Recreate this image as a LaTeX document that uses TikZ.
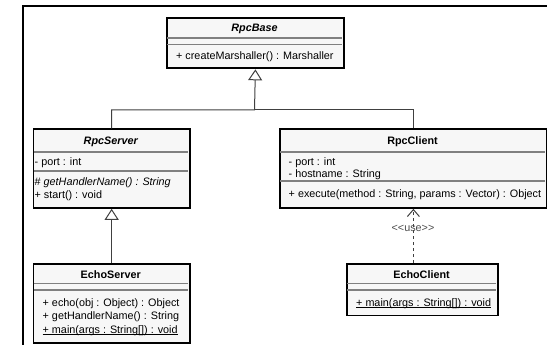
\documentclass[tikz,border=0pt]{standalone}
\usepackage{fontspec}
\setmainfont{Liberation Sans}
\usetikzlibrary{arrows.meta}
\begin{document}
\begin{tikzpicture}[x=1pt,y=-1pt,
  box/.style={draw=black, line width=1.8pt, fill=black!3, rectangle, inner sep=0pt, anchor=north west},
  sep/.style={draw=black!50, line width=1.2pt},
  txt/.style={font=\fontsize{10.8}{13}\selectfont, inner sep=0pt, anchor=base west},
  ttl/.style={font=\fontsize{10.8}{13}\selectfont\bfseries, inner sep=0pt, anchor=base},
  ulin/.style={draw=black, line width=0.6pt},
  conn/.style={draw=black!75, line width=1pt},
  gen/.style={conn, -{Triangle[open, length=11pt, width=14pt, fill=white]}},
  dep/.style={conn, dash pattern=on 3pt off 3pt, -{Straight Barb[length=7pt, width=12pt]}},
  lbl/.style={font=\fontsize{10.8}{13}\selectfont, text=black!70, inner sep=0pt, anchor=base},
]
\useasboundingbox (0,0) rectangle (547,345);
% frame
\draw[line width=2pt] (22.5,345) -- (22.5,6.5) -- (547,6.5);

% RpcBase
\node[box, minimum width=177pt, minimum height=50.5pt] (rpcbase) at (166,17) {};
\draw[sep] (167,38) -- (342,38);
\draw[sep] (167,44.5) -- (342,44.5);
\node[ttl, font=\fontsize{10.8}{13}\selectfont\bfseries\itshape] (rpcbaseT) at (254.5,31.5) {RpcBase};
\node[txt] (rpcbaseO1) at (176,60) {+ createMarshaller() : Marshaller};

% RpcServer
\node[box, minimum width=156.5pt, minimum height=78.5pt] (rpcserver) at (32.5,128.5) {};
\draw[sep] (33.5,152) -- (188,152);
\draw[sep] (33.5,171) -- (188,171);
\node[ttl, font=\fontsize{10.8}{13}\selectfont\bfseries\itshape] (rpcserverT) at (110.75,144.5) {RpcServer};
\node[txt] (rpcserverA1) at (34.5,165.5) {- port : int};
\node[txt, font=\fontsize{10.8}{13}\selectfont\itshape] (rpcserverO1) at (34.5,185.5) {\upshape\#\itshape{} getHandlerName() : String};
\node[txt] (rpcserverO2) at (34.5,198.5) {+ start() : void};

% RpcClient
\node[box, minimum width=267pt, minimum height=78.5pt] (rpcclient) at (279,128.5) {};
\draw[sep] (280,152) -- (545,152);
\draw[sep] (280,181) -- (545,181);
\node[ttl] (rpcclientT) at (412.5,144.5) {RpcClient};
\node[txt] (rpcclientA1) at (288.5,165.5) {- port : int};
\node[txt] (rpcclientA2) at (288.5,177.5) {- hostname : String};
\node[txt] (rpcclientO1) at (288.5,197.5) {+ execute(method : String, params : Vector) : Object};

% EchoServer
\node[box, minimum width=156.5pt, minimum height=79pt] (echoserver) at (32.5,263) {};
\draw[sep] (33.5,283.5) -- (188,283.5);
\draw[sep] (33.5,290) -- (188,290);
\node[ttl] (echoserverT) at (110.75,278) {EchoServer};
\node[txt] (echoserverO1) at (42.5,306) {+ echo(obj : Object) : Object};
\node[txt] (echoserverO2) at (42.5,319.5) {+ getHandlerName() : String};
\node[txt] (echoserverO3) at (42.5,333) {+ main(args : String[]) : void};
\draw[ulin] ([yshift=-1.3pt]echoserverO3.base west) -- ([yshift=-1.3pt]echoserverO3.base east);

% EchoClient
\node[box, minimum width=151pt, minimum height=51.5pt] (echoclient) at (346,263) {};
\draw[sep] (347,283.5) -- (496,283.5);
\draw[sep] (347,290) -- (496,290);
\node[ttl] (echoclientT) at (421.5,278) {EchoClient};
\node[txt] (echoclientO1) at (356,306) {+ main(args : String[]) : void};
\draw[ulin] ([yshift=-1.3pt]echoclientO1.base west) -- ([yshift=-1.3pt]echoclientO1.base east);

% connectors
\coordinate (junction) at (254.5,110);
\draw[gen] (rpcserver.north) |- (junction) -- (rpcbase.south);
\draw[conn] (rpcclient.north) |- (junction);
\draw[gen] (echoserver.north) -- (rpcserver.south);
\draw[dep] (echoclient.north -| rpcclient.south) -- (rpcclient.south);
\node[lbl] (uselbl) at (413,231) {<\kern0pt<use>\kern0pt>};
\end{tikzpicture}
\end{document}
